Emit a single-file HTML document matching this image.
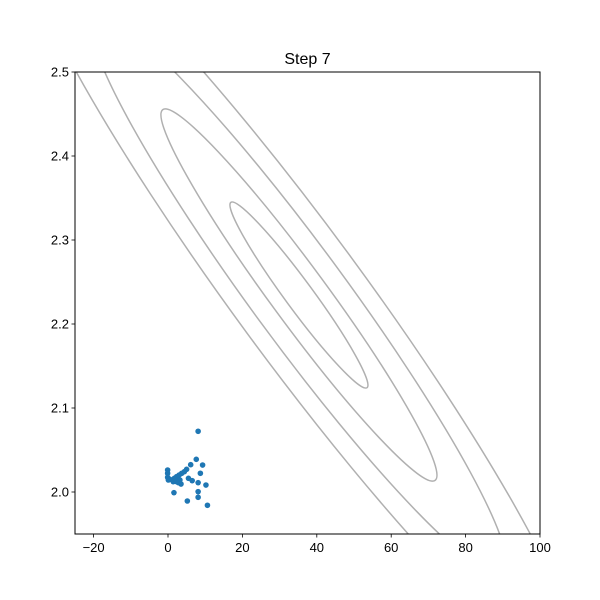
<!DOCTYPE html>
<html><head><meta charset="utf-8"><style>
html,body{margin:0;padding:0;background:#fff;width:600px;height:600px;overflow:hidden;}
svg{display:block;font-family:"Liberation Sans","DejaVu Sans",sans-serif;}
</style></head><body>
<svg id="chart" width="600" height="600" viewBox="0 0 600 600">
<defs><clipPath id="plotclip"><rect x="75" y="72" width="465" height="462"/></clipPath></defs>
<rect width="600" height="600" fill="#fff"/>
<text x="307.5" y="64" font-size="16" text-anchor="middle">Step 7</text>
<g id="contours" clip-path="url(#plotclip)"></g>
<g id="points" clip-path="url(#plotclip)"></g>
<g id="axes"></g>
</svg>
<script>
const xTicks = [-20, 0, 20, 40, 60, 80, 100];
const yTicks = [2.0, 2.1, 2.2, 2.3, 2.4, 2.5];
const yTickLabels = ["2.0", "2.1", "2.2", "2.3", "2.4", "2.5"];
const pointX = [8.1,7.6,6.1,9.3,8.7,-0.1,-0.1,-0.1,5.0,4.4,3.7,3.0,2.3,1.7,0.5,0.1,1.4,2.3,3.2,2.8,5.5,6.5,8.1,10.2,3.5,1.6,8.1,5.2,8.1,10.6];
const pointY = [2.0723,2.0389,2.0325,2.0321,2.0223,2.0262,2.0223,2.0175,2.027,2.0242,2.0223,2.0202,2.0182,2.0163,2.0151,2.0143,2.0123,2.0123,2.0143,2.0111,2.0163,2.0135,2.0111,2.0083,2.0095,1.9992,2.0004,1.9893,1.9937,1.9842];
const contourLevels = [1, 2, 3, 4];
const contourWidth = [1, 1, 1.12, 1.15];
const contourCenter = [35.2, 2.2345];

const X0=75,X1=540,Y0=534,Y1=72, xmin=-25,xmax=100,ymin=1.95,ymax=2.5;
const sx = v => X0 + (v - xmin) / (xmax - xmin) * (X1 - X0);
const sy = v => Y0 - (v - ymin) / (ymax - ymin) * (Y0 - Y1);
const NS = "http://www.w3.org/2000/svg";
function mk(tag, attrs, parent){ const e=document.createElementNS(NS,tag); for(const k in attrs) e.setAttribute(k, attrs[k]); parent.appendChild(e); return e; }

const cg = document.getElementById('contours');
const cx = sx(contourCenter[0]), cy = sy(contourCenter[1]);
contourLevels.forEach((k,i) => {
  const el = mk('ellipse', {cx:0, cy:0, rx:115*k, ry:14*k*contourWidth[i], transform:`translate(${cx},${cy}) rotate(53.7)`, fill:'none', stroke:'#b0b0b0', 'stroke-width':1.5}, cg);
  
  
});

const pg = document.getElementById('points');
pointX.forEach((v,i) => {
  const c = mk('circle', {cx:sx(v), cy:sy(pointY[i]), r:2.8, fill:'#1f77b4'}, pg);
  
  
});

const ag = document.getElementById('axes');
const frame = mk('rect', {x:X0, y:Y1, width:X1-X0, height:Y0-Y1, fill:'none', stroke:'#000', 'stroke-width':1}, ag);


xTicks.forEach(t => {
  const x = sx(t);
  mk('line', {x1:x, x2:x, y1:Y0, y2:Y0+3.5, stroke:'#000', 'stroke-width':0.8}, ag);
  const tx = mk('text', {x:x, y:Y0+18, 'font-size':13, 'text-anchor':'middle'}, ag);
  tx.textContent = (t < 0 ? '\u2212' + Math.abs(t) : String(t));
  
  
});
yTicks.forEach((t,i) => {
  const y = sy(t);
  mk('line', {x1:X0-3.5, x2:X0, y1:y, y2:y, stroke:'#000', 'stroke-width':0.8}, ag);
  const tx = mk('text', {x:X0-6, y:y+4.5, 'font-size':13, 'text-anchor':'end'}, ag);
  tx.textContent = yTickLabels[i];
  
  
});
</script>
</body></html>
